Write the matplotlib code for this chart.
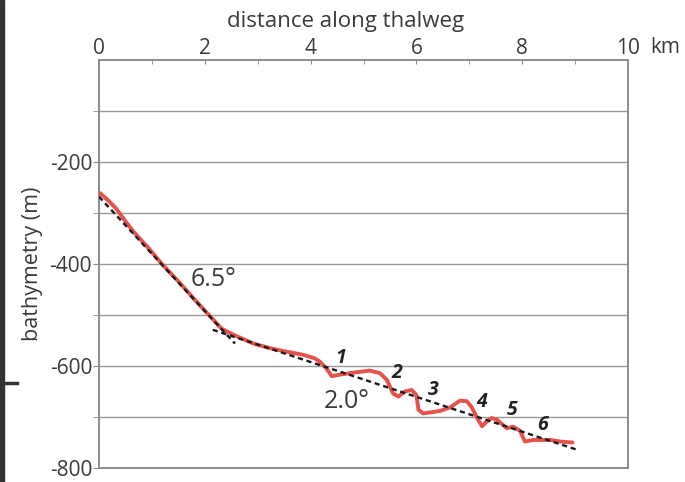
import matplotlib
matplotlib.use("Agg")
import matplotlib.pyplot as plt
from matplotlib.lines import Line2D
from matplotlib.patches import Rectangle

# thalweg profile (km along thalweg, bathymetry in m)
profile_km = [0.02, 0.18, 0.33, 0.49, 0.68, 0.93, 1.19, 1.50, 1.81, 2.13,
              2.32, 2.57, 2.92, 3.23, 3.55, 3.86, 4.08, 4.18, 4.30, 4.40,
              4.49, 4.81, 5.12, 5.31, 5.44, 5.56, 5.66, 5.78, 5.91, 6.00,
              6.04, 6.13, 6.45, 6.64, 6.82, 6.95, 7.04, 7.17, 7.24, 7.33,
              7.42, 7.52, 7.64, 7.71, 7.83, 7.96, 8.05, 8.21, 8.53, 8.71, 8.95]
profile_m = [-261, -276, -292, -315, -340, -368, -400, -434, -470, -506,
             -527, -540, -556, -565, -572, -578, -585, -592, -605, -620,
             -618, -613, -609, -614, -627, -654, -660, -650, -647, -657,
             -686, -693, -688, -681, -668, -669, -680, -706, -718, -709,
             -702, -705, -716, -722, -719, -727, -748, -745, -745, -748, -750]

# fitted slopes
steep_km = [0.0, 2.57]
steep_m = [-268, -556]
gentle_km = [2.15, 9.06]
gentle_m = [-529, -765]

# numbered steps
step_labels = ["1", "2", "3", "4", "5", "6"]
step_km = [4.56, 5.63, 6.32, 7.23, 7.80, 8.39]
step_m = [-585, -614, -647, -670, -686, -716]

xticks = [0, 2, 4, 6, 8, 10]
xtick_labels = ["0", "2", "4", "6", "8", "10"]
yticks = [-800, -600, -400, -200]

plt.rcParams['font.family'] = ['Open Sans', 'DejaVu Sans']
plt.rcParams['axes.unicode_minus'] = False
txt = '#3a3a3a'
gray = '#8c8c8c'

fig = plt.figure(figsize=(6.85, 4.82), dpi=100)
ax = fig.add_axes([99/685, 14/482, 529/685, 408/482])

ax.plot(profile_km, profile_m, color='#e5524e', lw=2.8, solid_capstyle='round', zorder=3)
ax.plot(steep_km, steep_m, color='#1a1a1a', lw=1.7, ls=(0, (2.2, 1.6)), zorder=4)
ax.plot(gentle_km, gentle_m, color='#1a1a1a', lw=1.7, ls=(0, (2.2, 1.6)), zorder=4)

ax.set_xlim(0, 10)
ax.set_ylim(-800, 0)

ax.xaxis.tick_top()
ax.set_xticks(xticks)
ax.set_xticklabels(xtick_labels)
ax.set_xticks(range(0, 11), minor=True)
ax.tick_params(axis='x', which='both', direction='in', length=3, color=gray,
               labelsize=15, labelcolor=txt, pad=1)
ax.set_yticks(yticks)
ax.set_yticks([-700, -500, -300, -100], minor=True)
ax.tick_params(axis='y', which='both', direction='out', length=4, color=gray,
               labelsize=15, labelcolor=txt, pad=1)
ax.grid(True, axis='y', which='both', color='#9a9a9a', lw=1.0)

for s in ax.spines.values():
    s.set_color(gray)
    s.set_linewidth(1.4)

ax.text(10.42, 3, "km", fontsize=15, color=txt, ha='left', va='bottom')
fig.text(346/685, 1 - 21/482, "distance along thalweg", fontsize=16,
         color=txt, ha='center', va='center')
ax.set_ylabel("bathymetry (m)", fontsize=15.5, color=txt)
ax.yaxis.set_label_coords(-0.105, 0.5)

ax.text(2.16, -431, "6.5°", fontsize=18, color=txt, ha='center', va='center')
ax.text(4.68, -670, "2.0°", fontsize=18, color=txt, ha='center', va='center')
for lab, xk, ym in zip(step_labels, step_km, step_m):
    ax.text(xk, ym, lab, fontsize=14, color='#222222', fontweight='bold',
            style='italic', ha='center', va='center')

# leftover frame edge at the left of the crop
fig.patches.append(Rectangle((0, 0), 4/685, 1, transform=fig.transFigure,
                             color='#333333', zorder=0))
fig.lines.append(Line2D([0, 17/685], [1 - 383/482] * 2, transform=fig.transFigure,
                        color='#333333', lw=2.5))

fig.savefig("out.png", dpi=100)
